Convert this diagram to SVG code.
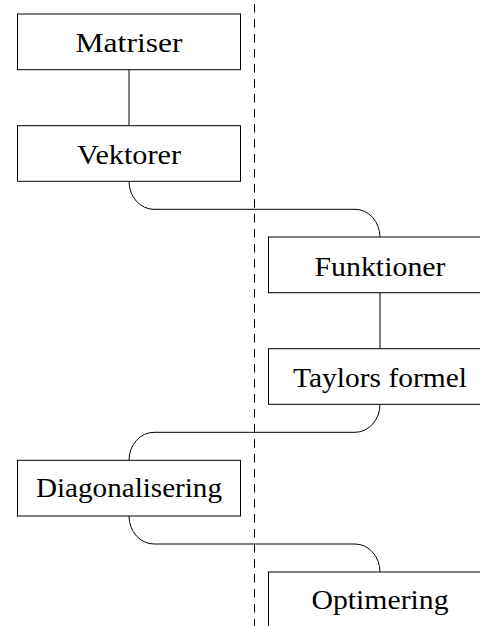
<svg xmlns="http://www.w3.org/2000/svg" width="480" height="626" viewBox="0 0 480 626">
<style>
.box{fill:#fff;stroke:#000;stroke-width:1}
.lbl{font-family:"Liberation Serif","Times New Roman",serif;font-size:27px;fill:#000;text-anchor:middle}
.con{fill:none;stroke:#000;stroke-width:1}
.sep{stroke:#000;stroke-width:1;stroke-dasharray:8.5 6.5}
</style>
<line class="sep" x1="254.5" y1="4" x2="254.5" y2="626"/>
<g id="connectors">
<line class="con" x1="129" y1="69.7" x2="129" y2="125.7"/>
<path class="con" d="M129,181.3 A25,28 0 0 0 154,209.3 H355 A25,28 0 0 1 380,237"/>
<line class="con" x1="380" y1="292.7" x2="380" y2="348.7"/>
<path class="con" d="M380,404.3 A25,28 0 0 1 355,432.3 H154 A25,28 0 0 0 129,460.3"/>
<path class="con" d="M129,516 A25,28 0 0 0 154,544 H355 A25,28 0 0 1 380,572"/>
</g>
<g id="matriser">
<rect class="box" x="17.5" y="14" width="223" height="55.7"/>
<text class="lbl" x="129" y="52.3" textLength="107" lengthAdjust="spacingAndGlyphs">Matriser</text>
</g>
<g id="vektorer">
<rect class="box" x="17.5" y="125.7" width="223" height="55.6"/>
<text class="lbl" x="129" y="163.5" textLength="104" lengthAdjust="spacingAndGlyphs">Vektorer</text>
</g>
<g id="funktioner">
<rect class="box" x="268.5" y="237" width="223" height="55.7"/>
<text class="lbl" x="380" y="275.5" textLength="131" lengthAdjust="spacingAndGlyphs">Funktioner</text>
</g>
<g id="taylors">
<rect class="box" x="268.5" y="348.7" width="223" height="55.6"/>
<text class="lbl" x="380" y="387" textLength="174" lengthAdjust="spacingAndGlyphs">Taylors formel</text>
</g>
<g id="diagonalisering">
<rect class="box" x="17.5" y="460.3" width="223" height="55.7"/>
<text class="lbl" x="129" y="497" textLength="186" lengthAdjust="spacingAndGlyphs">Diagonalisering</text>
</g>
<g id="optimering">
<rect class="box" x="268.5" y="572" width="223" height="55.7"/>
<text class="lbl" x="380" y="608.5" textLength="137" lengthAdjust="spacingAndGlyphs">Optimering</text>
</g>
</svg>
